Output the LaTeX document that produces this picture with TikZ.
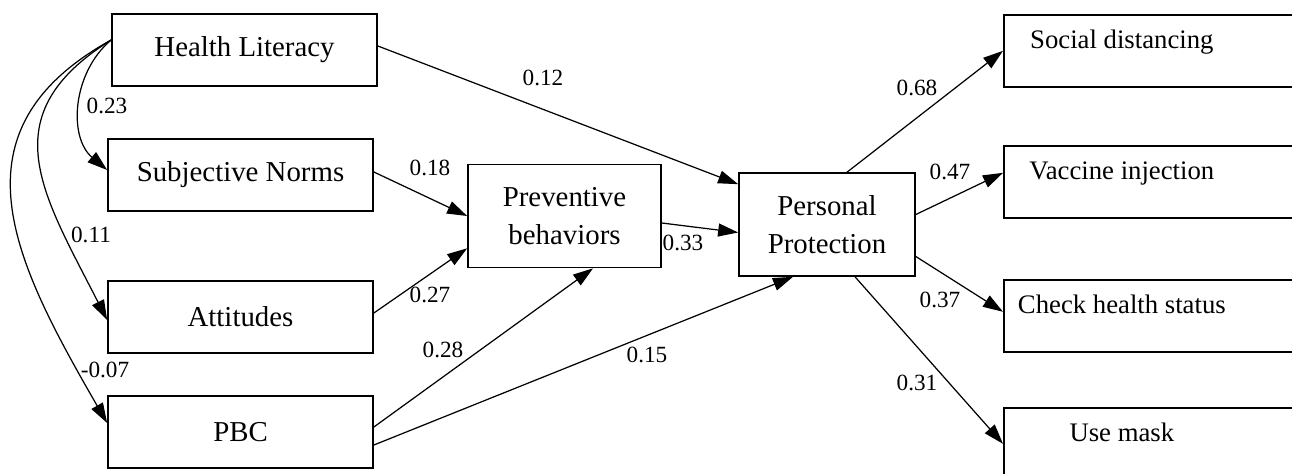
\documentclass[tikz,border=0pt]{standalone}
\usepackage{fontspec}
\setmainfont{Liberation Serif}
\usetikzlibrary{arrows.meta}
\newcommand{\outtext}[1]{\makebox[3.26cm][l]{\makebox[2.36cm]{#1}}}
\tikzset{
    box/.style={draw,line width=0.45pt,minimum width=2.65cm,minimum height=0.72cm,align=center,
        font=\fontsize{8.2}{10.8}\selectfont},
    midbox/.style={box,minimum height=1.03cm},
    outbox/.style={draw,line width=0.45pt,anchor=north west,inner xsep=0pt,inner ysep=0.12cm,
        text height=0.22cm,text depth=0.26cm,font=\fontsize{7.6}{10}\selectfont},
    path/.style={line width=0.35pt,-{Triangle[length=2mm,width=1.3mm]}},
    lbl/.style={inner sep=0pt,font=\fontsize{6.6}{8}\selectfont}
}
\begin{document}
\begin{tikzpicture}[x=0.01cm,y=-0.01cm]
    \useasboundingbox (0,0) rectangle (1292,473);
    \clip (0,0) rectangle (1292,473);
    % predictors
    \node[box] (hl) at (244.5,50) {Health Literacy};
    \node[box] (sn) at (240.5,175) {Subjective Norms};
    \node[box] (att) at (240.5,317) {Attitudes};
    \node[box] (pbc) at (240.5,432) {PBC};
    % mediators
    \node[midbox,minimum width=1.93cm] (pb) at (564.5,216) {Preventive\\behaviors};
    \node[midbox,minimum width=1.76cm] (pp) at (827,224.5) {Personal\\Protection};
    % outcomes
    \node[outbox] (sd) at (1003,14) {\outtext{Social distancing}};
    \node[outbox] (vi) at (1003,145) {\outtext{Vaccine injection}};
    \node[outbox] (chs) at (1003,279) {\outtext{Check health status}};
    \node[outbox] (um) at (1003,407) {\outtext{Use mask}};
    % health literacy paths
    \draw[path] ([yshift=1mm]hl.west) to[out=-140,in=140] ([yshift=0.5mm]sn.west);
    \draw[path] ([yshift=1mm]hl.west) to[out=-148,in=117,looseness=1.3] ([yshift=-0.3mm]att.west);
    \draw[path] ([yshift=1mm]hl.west) to[out=-151,in=120,looseness=1.25] ([yshift=0.9mm]pbc.west);
    \draw[path] ([yshift=0.4mm]hl.east) -- ([yshift=-1.2mm]pp.north west);
    \node[lbl] (l1) at (107,106) {0.23};
    \node[lbl] (l2) at (91,235) {0.11};
    \node[lbl] (l3) at (105,370) {-0.07};
    \node[lbl] (l4) at (543,78) {0.12};
    % paths into preventive behaviors
    \draw[path] ([yshift=0.3mm]sn.east) -- (pb.west);
    \draw[path] ([yshift=0.4mm]att.east) -- ([yshift=2mm]pb.south west);
    \draw[path] ([yshift=0.5mm]pbc.east) -- ([xshift=2.85mm]pb.south);
    \node[lbl] (l5) at (430,168) {0.18};
    \node[lbl] (l6) at (430,295) {0.27};
    \node[lbl] (l7) at (443,350) {0.28};
    % paths into personal protection
    \draw[path] ([yshift=-1.3mm]pbc.east) -- ([xshift=-3.4mm]pp.south);
    \draw[path] ([yshift=-0.7mm]pb.east) -- ([yshift=-0.8mm]pp.west);
    \node[lbl] (l8) at (647,355) {0.15};
    \node[lbl] (l9) at (683,243) {0.33};
    % outcome paths
    \draw[path] ([xshift=2mm]pp.north) -- (sd.west);
    \draw[path] ([yshift=1mm]pp.east) -- ([yshift=0.9mm]vi.west);
    \draw[path] ([yshift=-3.2mm]pp.east) -- ([yshift=0.4mm]chs.west);
    \draw[path] ([xshift=2.8mm]pp.south) -- (um.west);
    \node[lbl] (l10) at (917,88) {0.68};
    \node[lbl] (l11) at (950,172) {0.47};
    \node[lbl] (l12) at (940,300) {0.37};
    \node[lbl] (l13) at (917,383) {0.31};
\end{tikzpicture}
\end{document}
